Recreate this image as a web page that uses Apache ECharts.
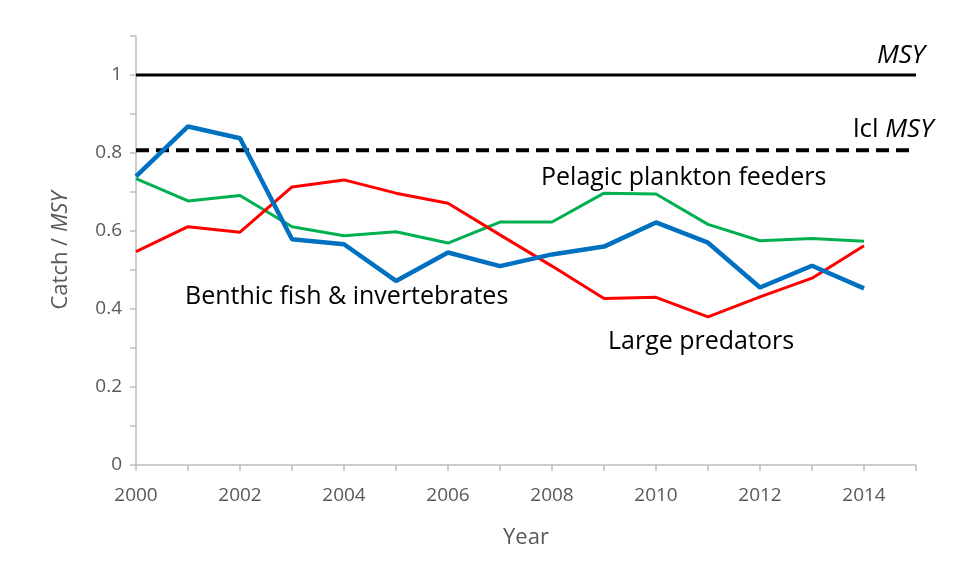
<!DOCTYPE html>
<html>
<head>
<meta charset="utf-8">
<script src="https://cdn.jsdelivr.net/npm/echarts@6/dist/echarts.min.js"></script>
<style>
  html, body { margin: 0; padding: 0; background: #fff; }
  #chart { width: 956px; height: 579px; }
</style>
</head>
<body>
<div id="chart"></div>
<script>
// data
var years = [2000, 2001, 2002, 2003, 2004, 2005, 2006, 2007, 2008, 2009, 2010, 2011, 2012, 2013, 2014];
var benthic = [0.740, 0.868, 0.838, 0.579, 0.566, 0.472, 0.545, 0.510, 0.540, 0.560, 0.622, 0.570, 0.455, 0.511, 0.453];
var pelagic = [0.734, 0.677, 0.691, 0.611, 0.588, 0.598, 0.569, 0.623, 0.623, 0.697, 0.695, 0.617, 0.575, 0.581, 0.574];
var predators = [0.547, 0.611, 0.597, 0.713, 0.731, 0.697, 0.671, 0.590, 0.510, 0.427, 0.430, 0.380, 0.431, 0.479, 0.562];
var msyLevel = 1;
var lclLevel = 0.807;
var refRange = [2000, 2015];

function pairs(vals) {
  return years.map(function (y, i) { return [y, vals[i]]; });
}
function flat(v) {
  return refRange.map(function (x) { return [x, v]; });
}

var font = "'Open Sans', 'Noto Sans', sans-serif";
var grey = "#595959";
var axisGrey = "#BFBFBF";

var myChart = echarts.init(document.getElementById("chart"));
myChart.setOption({
  animation: false,
  textStyle: { fontFamily: font },
  grid: { left: 136, right: 40, top: 36, bottom: 114, containLabel: false },
  xAxis: {
    type: "value",
    min: 2000,
    max: 2015,
    interval: 1,
    name: "Year",
    nameLocation: "middle",
    nameGap: 62,
    nameTextStyle: { color: grey, fontSize: 22, fontFamily: font },
    axisLine: { lineStyle: { color: axisGrey, width: 1.5 } },
    axisTick: { inside: false, length: 6, lineStyle: { color: axisGrey, width: 1.5 } },
    splitLine: { show: false },
    axisLabel: {
      color: grey,
      fontSize: 19,
      margin: 21,
      formatter: function (v) { return v % 2 === 0 && v < 2015 ? String(v) : ""; }
    }
  },
  yAxis: {
    type: "value",
    min: 0,
    max: 1.1,
    interval: 0.1,
    name: "{a|Catch / }{b|MSY}",
    nameLocation: "middle",
    nameRotate: 90,
    nameGap: 64,
    nameTextStyle: {
      rich: {
        a: { color: grey, fontSize: 22, fontFamily: font },
        b: { color: grey, fontSize: 22, fontFamily: font, fontStyle: "italic" }
      }
    },
    axisLine: { show: true, lineStyle: { color: axisGrey, width: 1.5 } },
    axisTick: { show: true, length: 6, lineStyle: { color: axisGrey, width: 1.5 } },
    splitLine: { show: false },
    axisLabel: {
      color: grey,
      fontSize: 19,
      margin: 14,
      formatter: function (v) {
        var k = Math.round(v * 10);
        if (k % 2 !== 0 || k > 10) return "";
        return k === 10 ? "1" : k === 0 ? "0" : (k / 10).toFixed(1);
      }
    }
  },
  series: [
    {
      name: "MSY",
      type: "line",
      data: flat(msyLevel),
      symbol: "none",
      lineStyle: { color: "#000", width: 3 },
      z: 1
    },
    {
      name: "lcl MSY",
      type: "line",
      data: flat(lclLevel),
      symbol: "none",
      lineStyle: { color: "#000", width: 4, type: [13, 7] },
      z: 1
    },
    {
      name: "Pelagic plankton feeders",
      type: "line",
      data: pairs(pelagic),
      symbol: "none",
      lineStyle: { color: "#00B050", width: 3 },
      z: 2
    },
    {
      name: "Large predators",
      type: "line",
      data: pairs(predators),
      symbol: "none",
      lineStyle: { color: "#FF0000", width: 3 },
      z: 3
    },
    {
      name: "Benthic fish & invertebrates",
      type: "line",
      data: pairs(benthic),
      symbol: "none",
      lineStyle: { color: "#0070C0", width: 4.5 },
      z: 4
    }
  ],
  graphic: [
    {
      type: "text", left: 877, top: 43,
      style: { text: "MSY", font: "italic 26px " + font, fill: "#000" }
    },
    {
      type: "text", left: 853, top: 117,
      style: {
        text: "{n|lcl }{i|MSY}",
        rich: {
          n: { font: "26px " + font, fill: "#000" },
          i: { font: "italic 26px " + font, fill: "#000" }
        }
      }
    },
    {
      type: "text", left: 541, top: 165,
      style: { text: "Pelagic plankton feeders", font: "25px " + font, fill: "#000" }
    },
    {
      type: "text", left: 185, top: 284,
      style: { text: "Benthic fish & invertebrates", font: "25px " + font, fill: "#000" }
    },
    {
      type: "text", left: 608, top: 329,
      style: { text: "Large predators", font: "25px " + font, fill: "#000" }
    }
  ]
});
</script>
</body>
</html>
